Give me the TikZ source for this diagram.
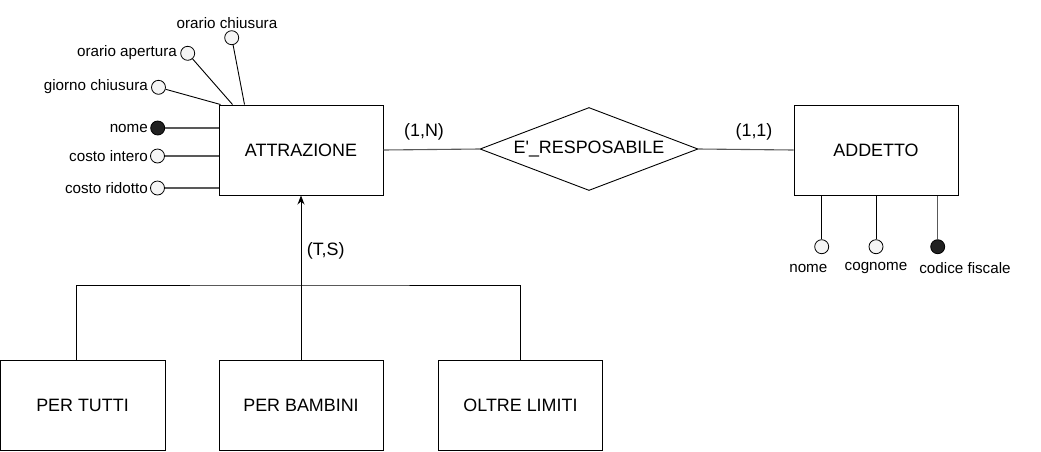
\documentclass[tikz,border=0pt]{standalone}
\usepackage{fontspec}
\setmainfont{Liberation Sans}
\usetikzlibrary{shapes.geometric,arrows.meta,calc}
\tikzset{
  bigtxt/.style={font=\fontsize{17.9}{20}\selectfont},
  smalltxt/.style={font=\fontsize{15.2}{17}\selectfont, inner sep=0pt},
  entity/.style={draw=black, line width=1pt, fill=white, minimum width=164pt, minimum height=90pt, inner sep=0pt, bigtxt},
  relation/.style={draw=black, line width=0.9pt, fill=white, diamond, aspect=2.6, minimum width=218pt, minimum height=83pt, inner sep=0pt, bigtxt},
  attrc/.style={circle, draw=black, line width=0.8pt, fill=black!4, minimum size=14pt, inner sep=0pt},
  keyc/.style={attrc, fill=black!87},
  conn/.style={draw=black!65, line width=1.1pt},
  hier/.style={draw=black, line width=0.9pt},
}
\begin{document}
\begin{tikzpicture}[x=1pt, y=-1pt]
\useasboundingbox (0,0) rectangle (1041,451);
% entities
\node[entity] (attr) at (301,150) {ATTRAZIONE};
\node[entity] (add) at (876,150) {ADDETTO};
\node[relation] (rel) at (589,149) {E\textquotesingle\_RESPOSABILE};
\node[entity, minimum width=165pt] (pt) at (82.5,405) {PER TUTTI};
\node[entity] (pb) at (301,405) {PER BAMBINI};
\node[entity] (ol) at (520.5,405) {OLTRE LIMITI};

% relationship connectors
\draw[conn] (attr.east) -- (rel.west);
\draw[conn] (rel.east) -- (add.west);
\node[bigtxt] (c1n) at (424,131.7) {(1,N)};
\node[bigtxt] (c11) at (754,131.7) {(1,1)};

% left attributes
\node[keyc] (anome) at (157.7,128) {};
\node[attrc] (aci) at (157.5,156) {};
\node[attrc] (acr) at (157.5,188) {};
\node[attrc] (agc) at (158.5,87.3) {};
\node[attrc] (aoa) at (187.7,53.3) {};
\node[attrc] (aoc) at (231.7,37.7) {};
\draw[conn] (anome) -- (anome -| attr.west);
\draw[conn] (aci) -- (aci -| attr.west);
\draw[conn] (acr) -- (acr -| attr.west);
\coordinate (tgc) at ($(attr.north west)+(2,0)$);
\coordinate (toa) at ($(attr.north west)+(14,0)$);
\coordinate (toc) at ($(attr.north west)+(26,0)$);
\draw[hier] (agc) -- (tgc);
\draw[hier] (aoa) -- (toa);
\draw[hier] (aoc) -- (toc);
\node[smalltxt, anchor=east] (lnome) at (148,128) {nome};
\node[smalltxt, anchor=east] (lci) at (148,156) {costo intero};
\node[smalltxt, anchor=east] (lcr) at (148,188) {costo ridotto};
\node[smalltxt, anchor=east] (lgc) at (148,87) {giorno chiusura};
\node[smalltxt, anchor=east] (loa) at (177,53) {orario apertura};
\node[smalltxt] (loc) at (227,23) {orario chiusura};

% right attributes
\node[attrc] (bnome) at (821.7,246.7) {};
\node[attrc] (bcog) at (876,246.7) {};
\node[keyc] (bcf) at (937.7,246.7) {};
\draw[hier] (bnome) -- (bnome |- add.south);
\draw[hier] (bcog) -- (bcog |- add.south);
\draw[conn] (bcf) -- (bcf |- add.south);
\node[smalltxt] (lbn) at (808.3,268) {nome};
\node[smalltxt] (lbc) at (876,268) {cognome};
\node[smalltxt] (lbf) at (965,268) {codice fiscale};

% generalization
\coordinate (hj) at (301,285);
\draw[hier] ([xshift=-6.5pt]pt.north) |- (hj) -| (ol.north);
\draw[hier, -{Stealth[length=9pt,width=7pt]}] (pb.north) -- (attr.south);
\node[bigtxt] (ts) at (325.7,250.7) {(T,S)};
\end{tikzpicture}
\end{document}
